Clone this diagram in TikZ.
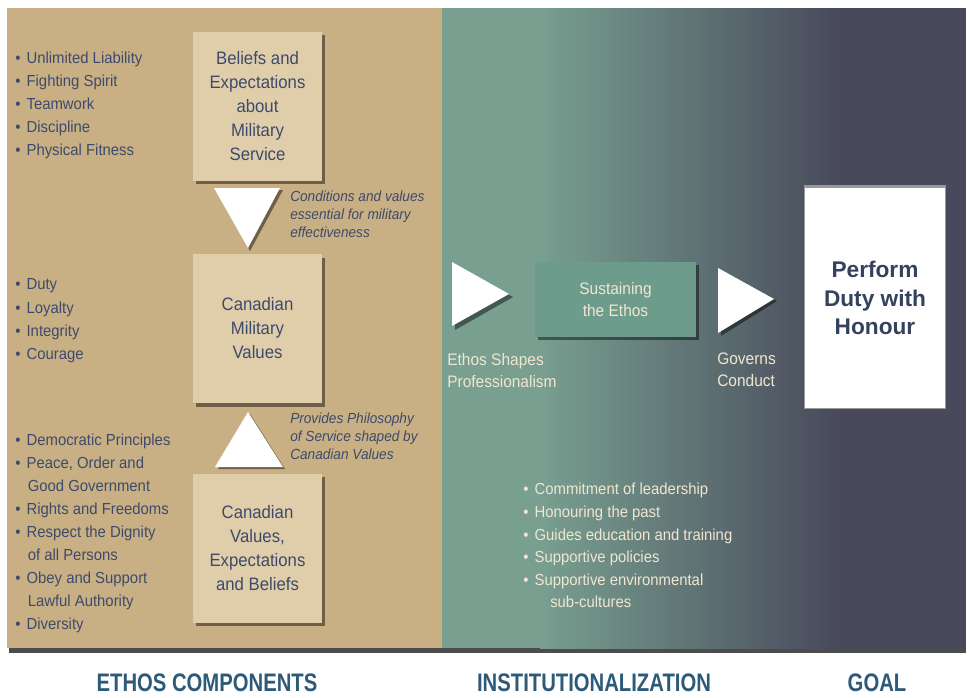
\documentclass[tikz,border=0pt]{standalone}
\usepackage{fontspec}
\setmainfont{Liberation Sans}
\newfontfamily\cf[FakeStretch=0.93]{Liberation Sans}
\newfontfamily\bcf[FakeStretch=0.8]{Liberation Sans}
\definecolor{tanbg}{HTML}{C9B084}
\definecolor{boxtan}{HTML}{E0CEAA}
\definecolor{navy}{HTML}{3D4A6B}
\definecolor{tealA}{HTML}{789F90}
\definecolor{slateB}{HTML}{48495B}
\definecolor{tealbox}{HTML}{6E9C8C}
\definecolor{cream}{HTML}{F1E6D0}
\definecolor{labelc}{HTML}{2D5A79}
\definecolor{goalc}{HTML}{34425E}
\begin{document}
\begin{tikzpicture}[x=0.75pt,y=-0.75pt,
  box/.style={fill=boxtan, align=center, text=navy, inner sep=0pt,
    font=\cf\fontsize{13.5}{18}\selectfont, minimum width=96.75pt, minimum height=111.75pt},
  shad/.style={fill=black, opacity=0.45},
  lst/.style={anchor=mid west, inner sep=0pt, text=navy, font=\cf\fontsize{12}{14}\selectfont},
  note/.style={anchor=north west, inner sep=0pt, align=left, text=navy,
    font=\cf\itshape\fontsize{11}{13.5}\selectfont},
  light/.style={inner sep=0pt, text=cream, font=\cf\fontsize{12.5}{16.5}\selectfont},
  lite/.style={anchor=mid west, inner sep=0pt, text=cream, font=\cf\fontsize{12}{14}\selectfont},
  foot/.style={inner sep=0pt, text=labelc, font=\bcf\bfseries\fontsize{19}{23}\selectfont},
  tri/.style={fill=white}]
\useasboundingbox (0,0) rectangle (969,697);
\fill[white] (0,0) rectangle (969,697);
% panels
\fill[black!70] (9,647) rectangle (966,653);
\fill[tanbg] (7,8) rectangle (442,648);
\fill[tealA] (442,8) rectangle (540,648);
\shade[left color=tealA, right color=slateB] (540,8) rectangle (840,648);
\fill[slateB] (840,8) rectangle (966,648);

% left boxes
\fill[shad] (196,35) rectangle (325,184);
\node[box] (b1) at (257.5,106.5) {Beliefs and\\Expectations\\about\\Military\\Service};
\fill[shad] (196,258) rectangle (325,407);
\node[box] (b2) at (257.5,328.5) {Canadian\\Military\\Values};
\fill[shad] (196,477) rectangle (325,626);
\node[box] (b3) at (257.5,548) {Canadian\\Values,\\Expectations\\and Beliefs};

% vertical triangles
\fill[shad] (216,190) -- (283,190) -- (250,251) -- cycle;
\fill[tri] (214,188) -- (280,188) -- (248,248) -- cycle;
\fill[shad] (250,414) -- (285,469) -- (218,469) -- cycle;
\fill[tri] (248,412) -- (283,467) -- (215,467) -- cycle;

% notes
\node[note] (n1) at (290,191) {Conditions and values\\essential for military\\effectiveness};
\node[note] (n2) at (290,413) {Provides Philosophy\\of Service shaped by\\Canadian Values};

% left lists
\foreach \t/\y [count=\i] in {Unlimited Liability/60, Fighting Spirit/83, Teamwork/106, Discipline/129, Physical Fitness/152,
  Duty/286, Loyalty/310, Integrity/333, Courage/356,
  Democratic Principles/442, {Peace, Order and}/465, Rights and Freedoms/511, Respect the Dignity/534,
  Obey and Support/580, Diversity/626}
  {\node[lst] (l\i) at (15,\y) {\makebox[8.5pt][l]{\textbullet}\t};}
\node[lst] (c1) at (27.5,488) {Good Government};
\node[lst] (c2) at (27.5,557) {of all Persons};
\node[lst] (c3) at (27.5,603) {Lawful Authority};

% right part
\fill[shad] (455,265) -- (513,297) -- (455,330) -- cycle;
\fill[tri] (452,262) -- (509,294) -- (452,326) -- cycle;
\fill[shad] (538,265) rectangle (699,340);
\node[light, fill=tealbox, minimum width=120.75pt, minimum height=56.25pt, align=center] (sus) at (615.5,299.5) {Sustaining\\the Ethos};
\fill[shad] (721,271) -- (777,301) -- (721,336) -- cycle;
\fill[tri] (718,268) -- (774,299) -- (718,333) -- cycle;
\node[light, anchor=north west, align=left] (esp) at (447,353) {Ethos Shapes\\Professionalism};
\node[light, anchor=north west, align=left] (gov) at (717,353) {Governs\\Conduct};

\fill[black!40] (804,185) rectangle (946,409);
\node[fill=white, inner sep=0pt, minimum width=105pt, minimum height=165pt, align=center,
  text=goalc, font=\bfseries\fontsize{17}{21.5}\selectfont] (goal) at (875,298) {Perform\\Duty with\\Honour};

\foreach \t/\y [count=\i] in {Commitment of leadership/491, Honouring the past/514, Guides education and training/537,
  Supportive policies/559, Supportive environmental/582}
  {\node[lite] (r\i) at (523,\y) {\makebox[8.5pt][l]{\textbullet}\t};}
\node[lite] (r6) at (550,604) {sub-cultures};

% footer labels
\node[foot] (f1) at (207,683) {ETHOS COMPONENTS};
\node[foot] (f2) at (594,683) {INSTITUTIONALIZATION};
\node[foot] (f3) at (877,683) {GOAL};
\end{tikzpicture}
\end{document}
